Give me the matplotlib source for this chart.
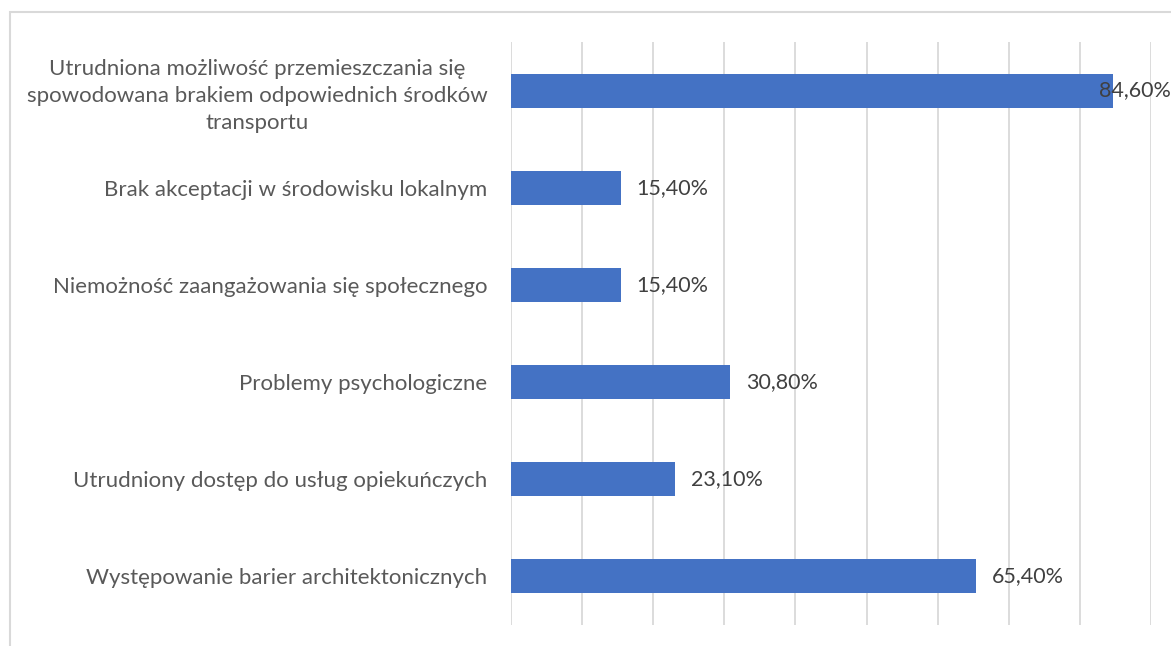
import matplotlib
matplotlib.use("Agg")
import matplotlib.pyplot as plt
from matplotlib.patches import Rectangle

categories = [
    "Utrudniona możliwość przemieszczania się\nspowodowana brakiem odpowiednich środków\ntransportu",
    "Brak akceptacji w środowisku lokalnym",
    "Niemożność zaangażowania się społecznego",
    "Problemy psychologiczne",
    "Utrudniony dostęp do usług opiekuńczych",
    "Występowanie barier architektonicznych",
]
values = [84.6, 15.4, 15.4, 30.8, 23.1, 65.4]
value_labels = ["84,60%", "15,40%", "15,40%", "30,80%", "23,10%", "65,40%"]
grid_ticks = [0, 10, 20, 30, 40, 50, 60, 70, 80, 90]

plt.rcParams['font.family'] = ['Lato', 'DejaVu Sans']
W, H = 1171, 646
fig = plt.figure(figsize=(W / 100, H / 100), dpi=100)
ax = fig.add_axes([511 / W, 1 - 625 / H, (1151 - 511) / W, (625 - 42) / H])

n = len(categories)
ypos = list(range(n))
ax.barh(ypos, values, height=0.35, color="#4472C4", zorder=3)
ax.set_ylim(n - 0.5, -0.5)
ax.set_xlim(0, 90)
ax.set_xticks(grid_ticks)
ax.set_xticklabels([])
ax.tick_params(axis='x', length=0)
ax.tick_params(axis='y', length=0, pad=17)
ax.set_yticks(ypos)
ax.set_yticklabels(categories, fontsize=16, color="#595959", ha='right',
                   multialignment='center', linespacing=1.45)
ax.grid(axis='x', color="#D9D9D9", linewidth=1.3, zorder=0)
for s in ax.spines.values():
    s.set_visible(False)

for i, (v, lab) in enumerate(zip(values, value_labels)):
    off = -14 if v > 80 else 16
    ax.annotate(lab, xy=(v, i), xytext=(off, 0), textcoords='offset pixels',
                ha='left', va='center', fontsize=15.5, color="#404040", zorder=4)

fig.patches.append(Rectangle((9.5 / W, -0.1), 1.2, 1 - 12 / H + 0.1,
                             transform=fig.transFigure, fill=False,
                             edgecolor="#D9D9D9", linewidth=1.5))
fig.savefig("out.png", dpi=100, facecolor="white")
